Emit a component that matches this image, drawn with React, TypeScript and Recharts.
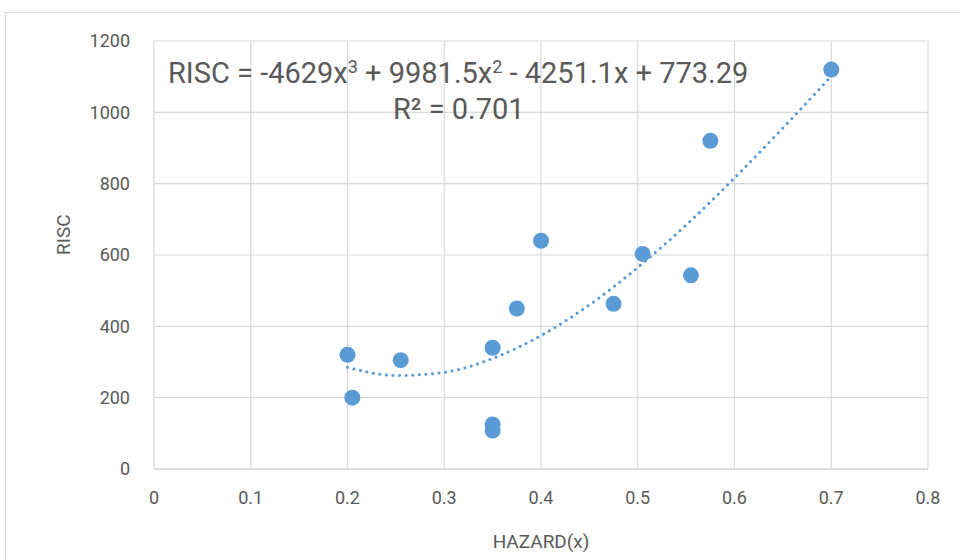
import React from "react";
import {
  ComposedChart,
  Scatter,
  Line,
  XAxis,
  YAxis,
  CartesianGrid,
} from "recharts";

// observed points (HAZARD, RISC)
const hazard = [0.2, 0.205, 0.255, 0.35, 0.35, 0.35, 0.375, 0.4, 0.475, 0.505, 0.555, 0.575, 0.7];
const risc = [320, 200, 305, 340, 125, 108, 450, 640, 463, 603, 543, 920, 1120];

// dotted trend line
const trendX = [0.2, 0.25, 0.3, 0.35, 0.4, 0.45, 0.5, 0.55, 0.6, 0.65, 0.7];
const trendY = [285, 262, 271, 310, 374, 460, 565, 684, 816, 956, 1101];

const xTicks = [0, 0.1, 0.2, 0.3, 0.4, 0.5, 0.6, 0.7, 0.8];
const yTicks = [0, 200, 400, 600, 800, 1000, 1200];

const points = hazard.map((x, i) => ({ x, y: risc[i] }));
const trend = trendX.map((x, i) => ({ x, y: trendY[i] }));

const BLUE = "#5B9BD5";
const GRID = "#D9D9D9";
const TEXT = "#595959";
const FONT = "'Liberation Sans Narrow', 'Roboto', sans-serif";

const Dot = (props: any) => (
  <circle cx={props.cx} cy={props.cy} r={8} fill={BLUE} />
);

export default function App() {
  return (
    <div
      style={{
        position: "fixed",
        left: 0,
        top: 0,
        width: 960,
        height: 560,
        background: "#fff",
        overflow: "hidden",
        fontFamily: FONT,
      }}
    >
      <div
        style={{
          position: "absolute",
          left: 5,
          top: 12,
          width: 1000,
          height: 600,
          border: `1px solid ${GRID}`,
        }}
      />
      <div style={{ position: "absolute", left: 0, top: 0 }}>
        <ComposedChart
          width={960}
          height={560}
          margin={{ top: 41, right: 32, bottom: 31, left: 74 }}
        >
          <CartesianGrid stroke={GRID} strokeWidth={1.2} />
          <XAxis
            type="number"
            dataKey="x"
            domain={[0, 0.8]}
            ticks={xTicks}
            tickLine={false}
            axisLine={{ stroke: GRID, strokeWidth: 1.5 }}
            tick={{ fill: TEXT, fontSize: 18, fontFamily: FONT }}
            tickMargin={16}
            height={60}
            label={{
              value: "HAZARD(x)",
              position: "insideBottom",
              offset: -19,
              fill: TEXT,
              fontSize: 19,
              fontFamily: FONT,
            }}
          />
          <YAxis
            type="number"
            dataKey="y"
            domain={[0, 1200]}
            ticks={yTicks}
            tickLine={false}
            axisLine={false}
            tick={{ fill: TEXT, fontSize: 18, fontFamily: FONT }}
            tickMargin={18}
            width={80}
            label={{
              value: "RISC",
              angle: -90,
              position: "insideLeft",
              offset: -11,
              fill: TEXT,
              fontSize: 19,
              fontFamily: FONT,
            }}
          />
          <Line
            data={trend}
            dataKey="y"
            type="monotone"
            stroke={BLUE}
            strokeWidth={3}
            strokeDasharray="0.1 6.5"
            strokeLinecap="round"
            dot={false}
            activeDot={false}
            isAnimationActive={false}
          />
          <Scatter
            data={points}
            dataKey="y"
            fill={BLUE}
            shape={<Dot />}
            isAnimationActive={false}
          />
        </ComposedChart>
      </div>
      <div
        style={{
          position: "absolute",
          left: 168,
          top: 55,
          fontSize: 29,
          color: TEXT,
          whiteSpace: "nowrap",
          lineHeight: "36px",
        }}
      >
        RISC = -4629x<sup style={{ fontSize: 18, verticalAlign: "10px", lineHeight: 0 }}>3</sup> + 9981.5x
        <sup style={{ fontSize: 18, verticalAlign: "10px", lineHeight: 0 }}>2</sup> - 4251.1x + 773.29
      </div>
      <div
        style={{
          position: "absolute",
          left: 393,
          top: 91,
          fontSize: 29,
          color: TEXT,
          whiteSpace: "nowrap",
          lineHeight: "36px",
        }}
      >
        R² = 0.701
      </div>
    </div>
  );
}
